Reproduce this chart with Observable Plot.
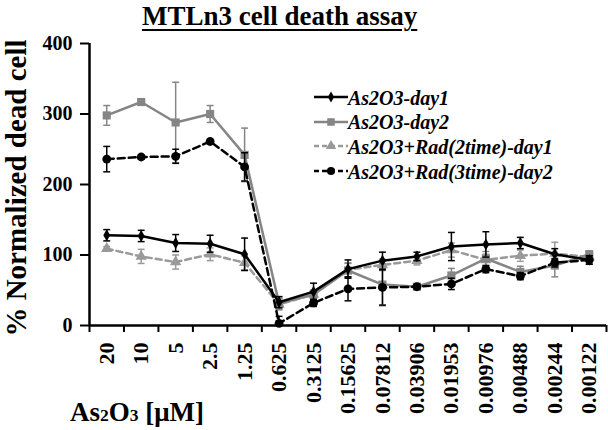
<!DOCTYPE html>
<html>
<head>
<meta charset="utf-8">
<script src="https://cdn.jsdelivr.net/npm/d3@7"></script>
<script src="https://cdn.jsdelivr.net/npm/@observablehq/plot@0.6"></script>
<style>
  html, body { margin: 0; padding: 0; background: #fff; }
  #wrap { position: relative; width: 608px; height: 430px; overflow: hidden; font-family: 'Liberation Serif', 'Times New Roman', serif; }
  #header { position: relative; height: 36px; }
  #title { position: absolute; left: 142px; top: 2px; font-size: 27px; line-height: 28px; font-weight: bold; white-space: nowrap;
           text-decoration: underline; text-decoration-thickness: 2px; text-underline-offset: 4px; }
  #ylabel { position: absolute; left: -144px; top: 173px; width: 320px; height: 30px; line-height: 30px; text-align: center;
            font-size: 29px; font-weight: bold; transform: rotate(-90deg); transform-origin: 160px 15px; white-space: nowrap; }
  #xlabel { position: absolute; left: 70px; top: 399px; font-size: 27px; line-height: 27px; font-weight: bold; white-space: nowrap; }
  #xlabel sub { font-size: 65%; vertical-align: baseline; }
  .leg-text { position: absolute; left: 348px; font-size: 20px; line-height: 20px; font-weight: bold; font-style: italic; white-space: nowrap; }
  .leg-svg { position: absolute; left: 313px; }
</style>
</head>
<body>
<div id="wrap">
  <div id="header"><div id="title">MTLn3 cell death assay</div></div>
  <div id="chart"></div>
  <div id="ylabel">% Normalized dead cell</div>
  <div id="xlabel">As<sub>2</sub>O<sub>3</sub> [μM]</div>
</div>
<script>
// ---- data ----
const concentrations = ["20","10","5","2.5","1.25","0.625","0.3125","0.15625","0.07812","0.03906","0.01953","0.00976","0.00488","0.00244","0.00122"];
const yTicks = [0, 100, 200, 300, 400];
const seriesNames = ["As2O3-day1", "As2O3-day2", "As2O3+Rad(2time)-day1", "As2O3+Rad(3time)-day2"];

const day1    = [128, 127, 117, 116, 101, 33, 48, 80, 92, 98, 112, 115, 117, 101, 93];
const day1Err = [8, 8, 12, 12, 23, 8, 12, 13, 12, 6, 20, 18, 8, 8, 6];
const day2    = [298, 317, 288, 300, 242, 31, 44, 78, 58, 55, 71, 95, 76, 85, 101];
const day2Err = [14, 0, 57, 12, 38, 8, 6, 10, 30, 4, 10, 10, 8, 16, 5];
const rad2    = [109, 98, 90, 101, 89, 30, 44, 79, 86, 92, 107, 93, 99, 102, 97];
const rad2Err = [3, 10, 10, 9, 10, 8, 6, 10, 8, 6, 10, 8, 8, 16, 5];
const rad3    = [236, 239, 240, 261, 225, 3, 32, 52, 54, 55, 59, 80, 70, 89, 93];
const rad3Err = [18, 3, 10, 3, 20, 10, 5, 17, 25, 3, 8, 5, 5, 6, 6];

// ---- styling ----
const BLACK = "#000", GRAY = "#858585", LGRAY = "#9a9a9a";
const styles = [
  {name: seriesNames[0], vals: day1, errs: day1Err, color: BLACK, dash: null,  symbol: "diamond",  r: 3.6},
  {name: seriesNames[1], vals: day2, errs: day2Err, color: GRAY,  dash: null,  symbol: "square",   r: 4.6},
  {name: seriesNames[2], vals: rad2, errs: rad2Err, color: LGRAY, dash: "6,4", symbol: "triangle", r: 4.2},
  {name: seriesNames[3], vals: rad3, errs: rad3Err, color: BLACK, dash: "7,4", symbol: "circle",   r: 4.4}
];
const drawOrder = [2, 1, 0, 3];
const capW = 0.1;
const n = concentrations.length;
const xDomain = [-0.5, n - 0.5];

const marks = [];
for (const k of drawOrder) {
  const s = styles[k];
  const rows = s.vals.map((v, i) => ({i, v, e: s.errs[i]}));
  const withErr = rows.filter(d => d.e > 0);
  marks.push(
    Plot.ruleX(withErr, {x: "i", y1: d => Math.max(0, d.v - d.e), y2: d => d.v + d.e, stroke: s.color, strokeWidth: 1.5}),
    Plot.link(withErr, {x1: d => d.i - capW, x2: d => d.i + capW, y1: d => d.v + d.e, y2: d => d.v + d.e, stroke: s.color, strokeWidth: 1.5}),
    Plot.link(withErr.filter(d => d.v - d.e > 0), {x1: d => d.i - capW, x2: d => d.i + capW, y1: d => d.v - d.e, y2: d => d.v - d.e, stroke: s.color, strokeWidth: 1.5}),
    Plot.line(rows, {x: "i", y: "v", stroke: s.color, strokeWidth: 2.5, strokeDasharray: s.dash}),
    Plot.dot(rows, {x: "i", y: "v", symbol: s.symbol, r: s.r, fill: s.color, stroke: "none"})
  );
}

const chart = Plot.plot({
  width: 608,
  height: 394,
  marginLeft: 89,
  marginRight: 2,
  marginTop: 7,
  marginBottom: 105,
  style: {fontFamily: "'Liberation Serif', 'Times New Roman', serif", fontWeight: "bold", fontSize: "20px", color: "#000", background: "transparent", overflow: "visible"},
  x: {type: "linear", domain: xDomain},
  y: {domain: [yTicks[0], yTicks[yTicks.length - 1]]},
  marks: [
    ...marks,
    Plot.axisY({ticks: yTicks, tickSize: 9, tickPadding: 8, fontSize: 20, fontWeight: "bold", strokeWidth: 2, label: null}),
    Plot.axisX({ticks: d3.range(n), tickFormat: i => concentrations[i], tickSize: 0, tickPadding: 17, tickRotate: -90, fontSize: 22, fontWeight: "bold", label: null}),
    Plot.axisX({ticks: d3.range(n + 1).map(i => i - 0.5), tickFormat: () => "", tickSize: 7, strokeWidth: 2, label: null}),
    Plot.ruleY([yTicks[0]], {stroke: BLACK, strokeWidth: 2.5}),
    Plot.ruleX([xDomain[0]], {y1: yTicks[0], y2: yTicks[yTicks.length - 1], stroke: BLACK, strokeWidth: 2.5})
  ]
});
document.getElementById("chart").appendChild(chart);

// ---- legend (HTML overlay) ----
const wrap = document.getElementById("wrap");
const baseline0 = 103.3, rowGap = 24.7;
styles.forEach((s, k) => {
  const B = baseline0 + k * rowGap;
  const svg = d3.create("svg").attr("class", "leg-svg").attr("width", 36).attr("height", 14)
    .style("top", (B - 6.5 - 7) + "px");
  svg.append("line").attr("x1", 1).attr("x2", 35).attr("y1", 7).attr("y2", 7)
    .attr("stroke", s.color).attr("stroke-width", 2.5).attr("stroke-dasharray", s.dash ? "5,3" : null);
  const sym = {diamond: d3.symbolDiamond, square: d3.symbolSquare, triangle: d3.symbolTriangle, circle: d3.symbolCircle}[s.symbol];
  svg.append("path").attr("transform", "translate(18,7)").attr("fill", s.color)
    .attr("d", d3.symbol(sym, Math.PI * s.r * s.r * 0.85)());
  wrap.appendChild(svg.node());
  const t = document.createElement("div");
  t.className = "leg-text";
  t.style.top = (B - 15.8) + "px";
  t.textContent = s.name;
  wrap.appendChild(t);
});
</script>
</body>
</html>
